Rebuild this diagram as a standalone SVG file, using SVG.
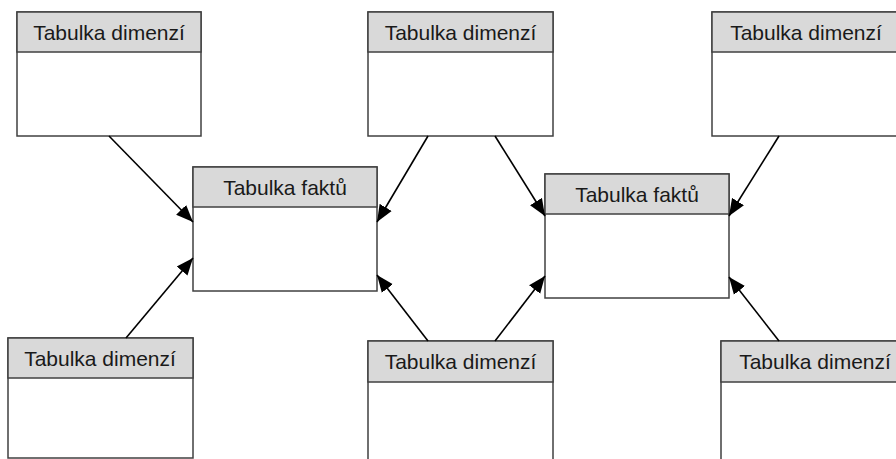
<svg xmlns="http://www.w3.org/2000/svg" width="896" height="459" viewBox="0 0 896 459">
<style>
.body{fill:#ffffff;stroke:#404040;stroke-width:1.5}
.head{fill:#d9d9d9;stroke:#404040;stroke-width:1.5}
.lbl{font-family:"Liberation Sans",Arial,sans-serif;font-size:21px;fill:#1a1a1a;text-anchor:middle}
.conn{stroke:#000000;stroke-width:1.6;fill:none;marker-end:url(#arr)}
</style>
<defs>
<marker id="arr" markerUnits="userSpaceOnUse" markerWidth="19" markerHeight="16" refX="17" refY="8" orient="auto">
<path d="M0,1 L17,8 L0,15 Z" fill="#000000"/>
</marker>
</defs>
<rect width="896" height="459" fill="#ffffff"/>
<g id="dim1">
<rect class="body" x="17" y="12" width="184" height="124"/>
<rect class="head" x="17" y="12" width="184" height="40"/>
<text class="lbl" x="109" y="40">Tabulka dimenzí</text>
</g>
<g id="dim2">
<rect class="body" x="368" y="12" width="185" height="124"/>
<rect class="head" x="368" y="12" width="185" height="40"/>
<text class="lbl" x="460.5" y="40">Tabulka dimenzí</text>
</g>
<g id="dim3">
<rect class="body" x="712" y="12" width="188" height="124"/>
<rect class="head" x="712" y="12" width="188" height="40"/>
<text class="lbl" x="806" y="40">Tabulka dimenzí</text>
</g>
<g id="fact1">
<rect class="body" x="193" y="167" width="184" height="124"/>
<rect class="head" x="193" y="167" width="184" height="40"/>
<text class="lbl" x="285" y="194.5">Tabulka faktů</text>
</g>
<g id="fact2">
<rect class="body" x="545" y="174" width="184" height="124"/>
<rect class="head" x="545" y="174" width="184" height="40"/>
<text class="lbl" x="637" y="201.5">Tabulka faktů</text>
</g>
<g id="dim4">
<rect class="body" x="8" y="338" width="185" height="120"/>
<rect class="head" x="8" y="338" width="185" height="40"/>
<text class="lbl" x="100" y="366">Tabulka dimenzí</text>
</g>
<g id="dim5">
<rect class="body" x="368" y="341" width="185" height="130"/>
<rect class="head" x="368" y="341" width="185" height="41"/>
<text class="lbl" x="460.5" y="369">Tabulka dimenzí</text>
</g>
<g id="dim6">
<rect class="body" x="721" y="341" width="188" height="130"/>
<rect class="head" x="721" y="341" width="188" height="41"/>
<text class="lbl" x="815" y="369">Tabulka dimenzí</text>
</g>
<g id="connectors">
<line class="conn" x1="109" y1="136" x2="193" y2="222"/>
<line class="conn" x1="126" y1="338" x2="193" y2="258"/>
<line class="conn" x1="428" y1="136" x2="377" y2="222"/>
<line class="conn" x1="428" y1="341" x2="377" y2="275"/>
<line class="conn" x1="495" y1="136" x2="545" y2="216"/>
<line class="conn" x1="495" y1="341" x2="545" y2="276"/>
<line class="conn" x1="779" y1="136" x2="729" y2="216"/>
<line class="conn" x1="779" y1="341" x2="729" y2="277"/>
</g>
</svg>
